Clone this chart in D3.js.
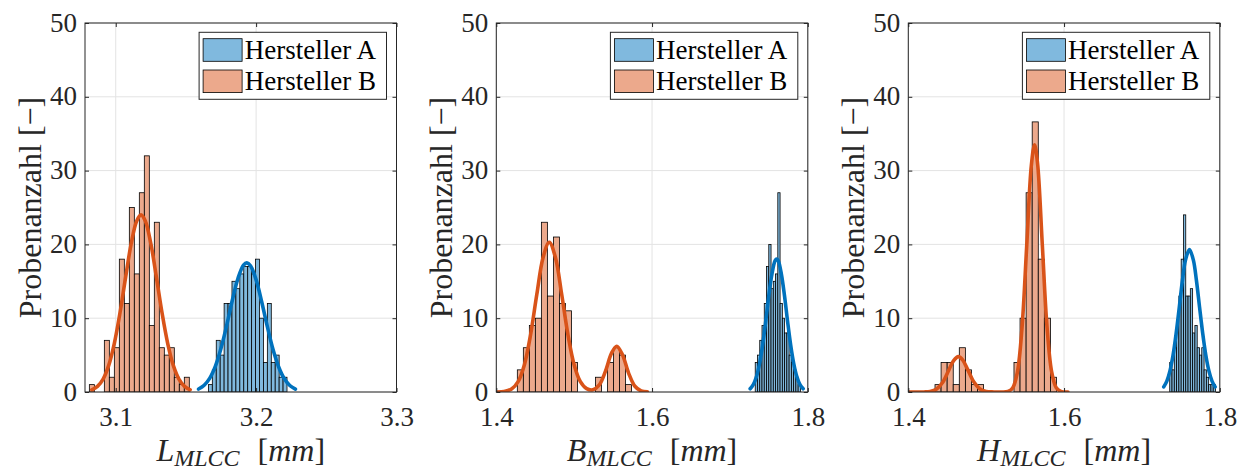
<!DOCTYPE html>
<html><head><meta charset="utf-8">
<script src="https://cdn.jsdelivr.net/npm/d3@7"></script>
<style>html,body{margin:0;padding:0;background:#fff;} svg{display:block;}</style>
</head><body>
<svg id="chart" width="1249" height="472"></svg>
<script>
// ---------------- data ----------------
const yTicks = [0, 10, 20, 30, 40, 50];
const xTicksL = [3.1, 3.2, 3.3];
const xTicksBH = [1.4, 1.6, 1.8];
const seriesNames = ["Hersteller A", "Hersteller B"];
const yLabel = "Probenanzahl [\u2212]";

// Panel L
const L_A_binStart = 3.1660, L_A_binWidth = 0.0028;
const L_A_counts = [1,3,7,5,12,12,15,14,16,17,17,16,18,10,4,12,4,5,2,2];
const L_B_binStart = 3.0812, L_B_binWidth = 0.00356;
const L_B_counts = [1,0,0,7,2,6,18,12,25,16,27,32,9,23,6,5,6,2,1,2];
const L_A_fitX = [3.159,3.163,3.167,3.171,3.175,3.179,3.183,3.187,3.191,3.1934,3.196,3.200,3.204,3.208,3.212,3.216,3.220,3.224,3.228];
const L_A_fitY = [0.40,0.91,1.88,3.51,5.92,9.01,12.4,15.35,17.2,17.5,17.1,15.2,12.2,8.85,5.78,3.42,1.82,0.88,0.38];
const L_B_fitX = [3.083,3.087,3.091,3.095,3.099,3.103,3.107,3.111,3.115,3.118,3.121,3.125,3.129,3.133,3.137,3.141,3.145,3.149,3.153];
const L_B_fitY = [0.30,0.76,1.75,3.6,6.6,10.7,15.5,20.1,23.2,24,23.2,20.1,15.5,10.7,6.6,3.6,1.75,0.76,0.30];

// Panel B
const B_A_binStart = 1.7325, B_A_binWidth = 0.0029;
const B_A_counts = [4,5,7,9,12,17,20,14,15,16,27,12,10,8,8,5,4,3,2,1];
const B_B_binStart = 1.427, B_B_binWidth = 0.00772;
const B_B_counts = [3,6,9,10,23,13,21,12,11,4,0,0,0,2,0,4,6,5,1,0];
const B_A_fitX = [1.726,1.730,1.734,1.738,1.742,1.746,1.750,1.754,1.758,1.760,1.762,1.766,1.770,1.774,1.778,1.782,1.786,1.790,1.794];
const B_A_fitY = [0.44,1.0,2.07,3.83,6.38,9.6,13.1,16.0,17.8,18,17.8,16.0,13.1,9.6,6.38,3.83,2.07,1.0,0.44];
const B_B_fitX = [1.400,1.410,1.420,1.428,1.436,1.444,1.452,1.460,1.468,1.476,1.484,1.492,1.500,1.508,1.516,1.524,1.532,1.540,1.548,1.5546,1.562,1.570,1.578,1.586,1.594];
const B_B_fitY = [0.01,0.07,0.43,1.40,3.67,7.76,13.2,18.2,20.3,18.2,13.2,7.76,3.67,1.40,0.45,0.29,0.92,2.77,5.26,6.2,5.04,2.53,0.78,0.15,0.02];

// Panel H
const H_A_binStart = 1.7357, H_A_binWidth = 0.00294;
const H_A_counts = [4,3,6,9,13,18,24,13,13,14,8,9,6,5,6,3,2,1,1,1];
const H_B_binStart = 1.4343, H_B_binWidth = 0.0078;
const H_B_counts = [1,4,4,1,6,3,1,1,0,0,0,0,0,4,10,27,36.6,18,10,2];
const H_A_fitX = [1.728,1.732,1.736,1.740,1.744,1.748,1.752,1.756,1.761,1.766,1.770,1.774,1.778,1.782,1.786,1.790,1.794];
const H_A_fitY = [0.69,1.48,2.87,5.02,7.99,11.5,15.1,17.9,19.3,17.9,15.1,11.5,7.99,5.02,2.87,1.48,0.69];
const H_B_fitX = [1.400,1.410,1.420,1.428,1.436,1.444,1.452,1.458,1.4643,1.470,1.476,1.484,1.492,1.500,1.510,1.520,1.528,1.534,1.540,1.546,1.552,1.558,1.5621,1.566,1.572,1.578,1.584,1.590,1.596,1.605];
const H_B_fitY = [0,0,0.01,0.07,0.37,1.29,2.97,4.23,4.8,4.33,3.10,1.38,0.41,0.08,0.01,0.0,0.08,0.55,2.63,8.7,19.7,30.7,33.5,30.95,20.1,9.0,2.78,0.58,0.08,0];

// ---------------- layout ----------------
const W = 1249, H = 472;
const plotTop = 23, plotBottom = 392, plotW = 311.5;
const FONT = "Liberation Serif";
const COL_A = "#0072BD", COL_B = "#D95319";
const FILL_A = "#80B9DE", FILL_B = "#ECA98C";

const panels = [
  { left: 85, domain: [3.0781, 3.3], ticks: xTicksL, fmt: d3.format(".1f"), sym: "L",
    A: {start: L_A_binStart, w: L_A_binWidth, counts: L_A_counts, fx: L_A_fitX, fy: L_A_fitY},
    B: {start: L_B_binStart, w: L_B_binWidth, counts: L_B_counts, fx: L_B_fitX, fy: L_B_fitY} },
  { left: 496.3, domain: [1.4, 1.8], ticks: xTicksBH, fmt: d3.format(".1f"), sym: "B",
    A: {start: B_A_binStart, w: B_A_binWidth, counts: B_A_counts, fx: B_A_fitX, fy: B_A_fitY},
    B: {start: B_B_binStart, w: B_B_binWidth, counts: B_B_counts, fx: B_B_fitX, fy: B_B_fitY} },
  { left: 908.3, domain: [1.4, 1.8], ticks: xTicksBH, fmt: d3.format(".1f"), sym: "H",
    A: {start: H_A_binStart, w: H_A_binWidth, counts: H_A_counts, fx: H_A_fitX, fy: H_A_fitY},
    B: {start: H_B_binStart, w: H_B_binWidth, counts: H_B_counts, fx: H_B_fitX, fy: H_B_fitY} }
];

const svg = d3.select("#chart");
svg.append("rect").attr("width", W).attr("height", H).attr("fill", "#fff");

panels.forEach((p, pi) => {
  const x = d3.scaleLinear().domain(p.domain).range([p.left, p.left + plotW]);
  const y = d3.scaleLinear().domain([0, 50]).range([plotBottom, plotTop]);
  const g = svg.append("g");
  const clipId = "clip" + pi;
  svg.append("clipPath").attr("id", clipId).append("rect")
    .attr("x", p.left).attr("y", plotTop).attr("width", plotW).attr("height", plotBottom - plotTop);

  // grid
  g.append("g").selectAll("line").data(p.ticks).join("line")
    .attr("x1", d => x(d)).attr("x2", d => x(d)).attr("y1", plotTop).attr("y2", plotBottom)
    .attr("stroke", "#e3e3e3").attr("stroke-width", 1);
  g.append("g").selectAll("line").data(yTicks).join("line")
    .attr("y1", d => y(d)).attr("y2", d => y(d)).attr("x1", p.left).attr("x2", p.left + plotW)
    .attr("stroke", "#e3e3e3").attr("stroke-width", 1);

  const content = g.append("g").attr("clip-path", `url(#${clipId})`);
  const line = d3.line().x(d => x(d[0])).y(d => y(d[1])).curve(d3.curveCatmullRom);

  [["A", FILL_A, COL_A], ["B", FILL_B, COL_B]].forEach(([k, fill, col]) => {
    const s = p[k];
    const bins = s.counts.map((c, i) => ({x0: s.start + i * s.w, x1: s.start + (i + 1) * s.w, c}));
    content.append("g").selectAll("rect").data(bins.filter(b => b.c > 0)).join("rect")
      .attr("x", b => x(b.x0)).attr("width", b => x(b.x1) - x(b.x0))
      .attr("y", b => y(b.c)).attr("height", b => y(0) - y(b.c))
      .attr("fill", fill).attr("stroke", "#000").attr("stroke-width", 0.8);
    content.append("path").datum(s.fx.map((v, i) => [v, s.fy[i]]))
      .attr("d", line).attr("fill", "none").attr("stroke", col)
      .attr("stroke-width", 3.6).attr("stroke-linejoin", "round").attr("stroke-linecap", "round");
  });

  // axes
  const tickLen = 4;
  const ax = g.append("g").attr("transform", `translate(0,${plotBottom})`)
    .call(d3.axisBottom(x).tickValues(p.ticks).tickFormat(p.fmt).tickSizeInner(-tickLen).tickSizeOuter(0).tickPadding(15));
  const ay = g.append("g").attr("transform", `translate(${p.left},0)`)
    .call(d3.axisLeft(y).tickValues(yTicks).tickFormat(d3.format("d")).tickSizeInner(-tickLen).tickSizeOuter(0).tickPadding(8));
  const at = g.append("g").attr("transform", `translate(0,${plotTop})`)
    .call(d3.axisTop(x).tickValues(p.ticks).tickFormat("").tickSizeInner(-tickLen).tickSizeOuter(0));
  const ar = g.append("g").attr("transform", `translate(${p.left + plotW},0)`)
    .call(d3.axisRight(y).tickValues(yTicks).tickFormat("").tickSizeInner(-tickLen).tickSizeOuter(0));
  [ax, ay, at, ar].forEach(a => {
    a.select(".domain").remove();
    a.selectAll("line").attr("stroke", "#262626").attr("stroke-width", 1);
    a.selectAll("text").attr("font-family", FONT).attr("font-size", 27).attr("fill", "#262626");
  });
  ay.selectAll("text").attr("dy", "0.3em");

  // box
  g.append("rect").attr("x", p.left).attr("y", plotTop).attr("width", plotW).attr("height", plotBottom - plotTop)
    .attr("fill", "none").attr("stroke", "#262626").attr("stroke-width", 1);

  // x label
  const cx = p.left + plotW / 2;
  const xl = g.append("text").attr("x", cx).attr("y", 461).attr("text-anchor", "middle")
    .attr("font-family", FONT).attr("font-size", 32).attr("fill", "#262626");
  xl.append("tspan").attr("font-style", "italic").text(p.sym);
  xl.append("tspan").attr("font-style", "italic").attr("font-size", 24).attr("dy", 5).text("MLCC");
  xl.append("tspan").attr("dy", -5).attr("dx", 18).text("[");
  xl.append("tspan").attr("font-style", "italic").text("mm");
  xl.append("tspan").text("]");

  // y label
  g.append("text").attr("transform", `translate(${p.left - 44},${(plotTop + plotBottom) / 2}) rotate(-90)`)
    .attr("text-anchor", "middle").attr("font-family", FONT).attr("font-size", 32).attr("fill", "#262626")
    .text(yLabel);

  // legend
  const lx = p.left + plotW - 10 - 187.4, ly = plotTop + 9.3;
  const lg = g.append("g");
  lg.append("rect").attr("x", lx).attr("y", ly).attr("width", 187.4).attr("height", 67)
    .attr("fill", "#fff").attr("stroke", "#262626").attr("stroke-width", 1);
  [[FILL_A, seriesNames[0]], [FILL_B, seriesNames[1]]].forEach(([f, name], i) => {
    lg.append("rect").attr("x", lx + 4).attr("y", ly + 6.4 + i * 31.3).attr("width", 39).attr("height", 22.6)
      .attr("fill", f).attr("stroke", "#000").attr("stroke-width", 0.8);
    lg.append("text").attr("x", lx + 45.7).attr("y", ly + 26.3 + i * 31.3)
      .attr("font-family", FONT).attr("font-size", 27).attr("fill", "#000").text(name);
  });
});
</script>
</body></html>
